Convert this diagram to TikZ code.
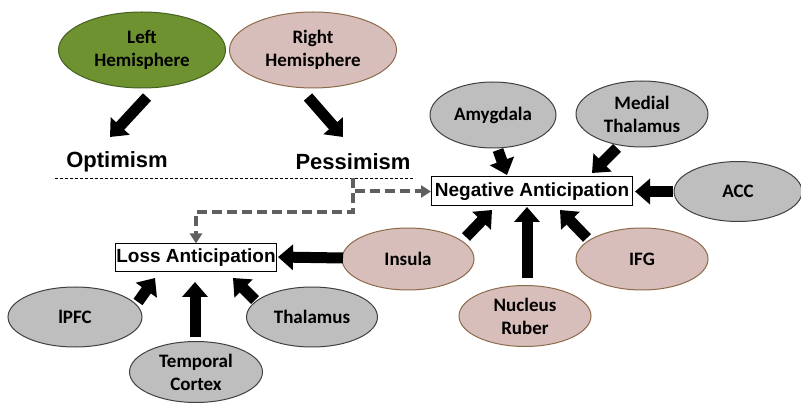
\documentclass[tikz,border=0pt]{standalone}
\usepackage{fontspec}
\setmainfont{Carlito}
\newfontfamily\arialb{Liberation Sans}
\usetikzlibrary{arrows.meta,shapes.geometric}
\definecolor{lgreen}{RGB}{110,146,48}
\definecolor{lgreenB}{RGB}{70,95,35}
\definecolor{lpink}{RGB}{216,190,186}
\definecolor{lpinkB}{RGB}{140,106,74}
\definecolor{lgray}{RGB}{190,190,190}
\definecolor{lgrayB}{RGB}{64,64,64}
\definecolor{dgray}{RGB}{95,95,95}
\tikzset{
  region/.style={ellipse, inner sep=0pt, align=center, font=\fontsize{19}{23}\selectfont\bfseries, line width=1pt},
  grayreg/.style={region, fill=lgray, draw=lgrayB},
  pinkreg/.style={region, fill=lpink, draw=lpinkB},
  greenreg/.style={region, fill=lgreen, draw=lgreenB},
  outcome/.style={font=\arialb\fontsize{22}{26}\selectfont\bfseries, inner sep=0pt},
  antbox/.style={draw=black, line width=1pt, fill=white, inner sep=0pt, font=\arialb\fontsize{19}{22}\selectfont\bfseries},
  blk/.style={line width=11pt, -{Triangle[width=25pt,length=15pt]}},
  gdash/.style={draw=dgray, line width=4pt, dash pattern=on 10pt off 5pt, -{Triangle[width=12pt,length=10pt]}},
}
\begin{document}
\begin{tikzpicture}[x=1pt,y=-1pt]
\useasboundingbox (0,0) rectangle (801,406);
% top
\node[greenreg, minimum width=167pt, minimum height=76pt] (lh) at (142,50) {Left\\Hemisphere};
\node[pinkreg, minimum width=167pt, minimum height=76pt] (rh) at (313,50) {Right\\Hemisphere};
\node[outcome] (opt) at (117,162) {Optimism};
\node[outcome] (pes) at (353,162) {Pessimism};
\coordinate (dl1) at (55,178);
\coordinate (dl2) at (415,178);
\draw[line width=0.8pt, dash pattern=on 3pt off 2pt] (dl1) -- (dl2);
% negative anticipation cluster
\node[antbox, minimum width=201pt, minimum height=29pt] (neg) at (532,191.5) {Negative Anticipation};
\node[grayreg, minimum width=126pt, minimum height=66pt] (amy) at (493,115) {Amygdala};
\node[grayreg, minimum width=132pt, minimum height=66pt] (mth) at (642,114) {Medial\\Thalamus};
\node[grayreg, minimum width=128pt, minimum height=60pt] (acc) at (738,191.5) {ACC};
\node[pinkreg, minimum width=132pt, minimum height=62pt] (ins) at (408,259) {Insula};
\node[pinkreg, minimum width=132pt, minimum height=62pt] (ifg) at (642,259) {IFG};
\node[pinkreg, minimum width=132pt, minimum height=61pt] (nr) at (525,316) {Nucleus\\Ruber};
% loss anticipation cluster
\node[antbox, minimum width=161pt, minimum height=28pt] (loss) at (196,258) {Loss Anticipation};
\node[grayreg, minimum width=134pt, minimum height=60pt] (lpfc) at (75,317) {lPFC};
\node[grayreg, minimum width=131pt, minimum height=60pt] (tha) at (312,317) {Thalamus};
\node[grayreg, minimum width=133pt, minimum height=61pt] (tc) at (196,372) {Temporal\\Cortex};
% block arrows
\draw[blk] ([shift={(5,47)}]lh.center) -- ([shift={(-7,-25)}]opt.center);
\draw[blk] ([shift={(-5,47)}]rh.center) -- ([shift={(-10,-25)}]pes.center);
\draw[blk] ([shift={(5,35)}]amy.center) -- ([shift={(-25,-16.5)}]neg.center);
\draw[blk] ([shift={(-25,34)}]mth.center) -- ([shift={(60,-18.5)}]neg.center);
\draw[blk] ([shift={(-65,0)}]acc.center) -- ([shift={(103,0)}]neg.center);
\draw[blk] ([shift={(58,-22)}]ins.center) -- ([shift={(-40,18.5)}]neg.center);
\draw[blk] ([shift={(2,-38)}]nr.center) -- ([shift={(-5,15.5)}]neg.center);
\draw[blk] ([shift={(-55,-21)}]ifg.center) -- ([shift={(28,18.5)}]neg.center);
\draw[blk] ([shift={(-65,-1)}]ins.center) -- ([shift={(82,-1)}]loss.center);
\draw[blk] ([shift={(63,-15)}]lpfc.center) -- ([shift={(-41,20)}]loss.center);
\draw[blk] ([shift={(-1,-35)}]tc.center) -- ([shift={(-1,24)}]loss.center);
\draw[blk] ([shift={(-57,-17)}]tha.center) -- ([shift={(37,20)}]loss.center);
% dashed gray connectors
\draw[gdash] ([shift={(0,16)}]pes.center) |- (neg.west);
\draw[gdash] ([shift={(0,16)}]pes.center) -- ++(0,34) -| (loss.north);
\end{tikzpicture}
\end{document}
